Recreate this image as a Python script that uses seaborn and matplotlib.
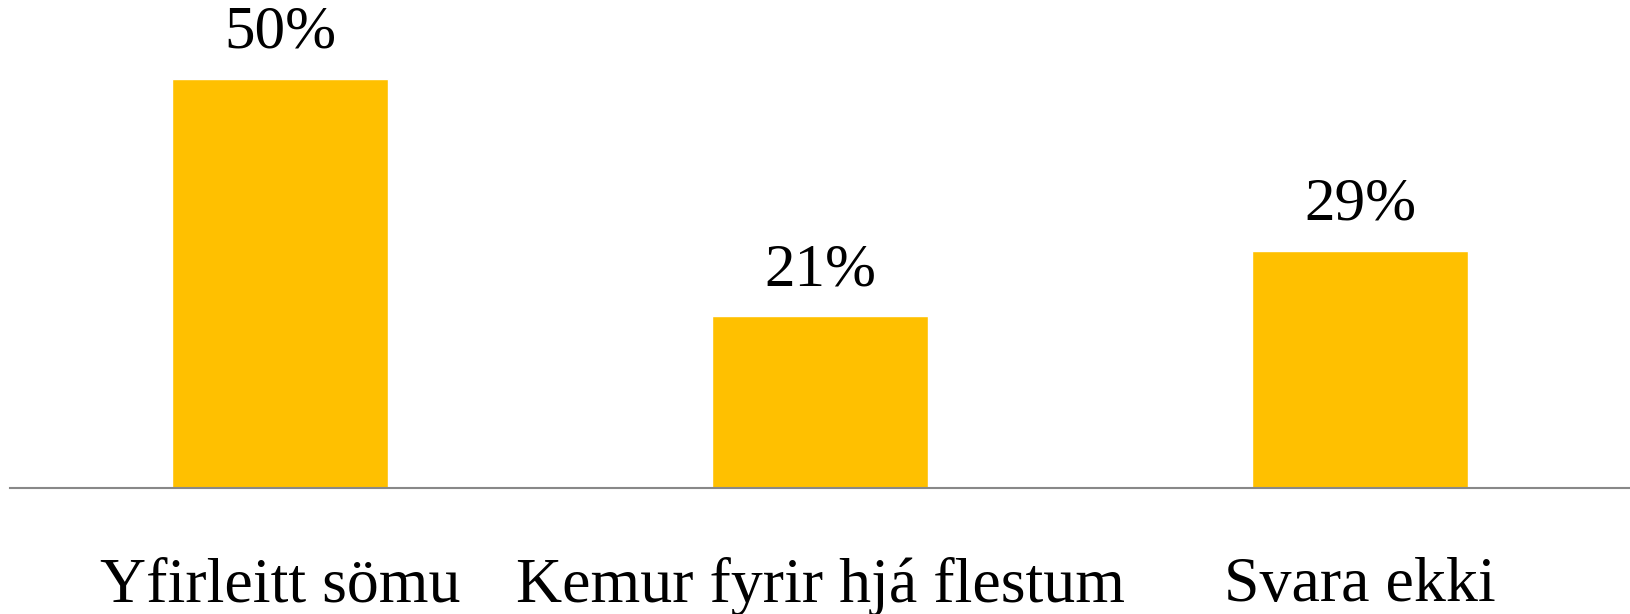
import matplotlib
matplotlib.use("Agg")
import matplotlib.pyplot as plt
import seaborn as sns
import pandas as pd

categories = ["Yfirleitt sömu", "Kemur fyrir hjá flestum", "Svara ekki"]
values = [50, 21, 29]
labels = ["50%", "21%", "29%"]

sns.set_style("white")
plt.rcParams["font.family"] = ["Liberation Serif", "DejaVu Serif"]

df = pd.DataFrame({"cat": categories, "val": values})

fig = plt.figure(figsize=(16.3, 6.14), dpi=100)
ax = fig.add_axes([10 / 1630, 126 / 614, 1620 / 1630, 488 / 614])
sns.barplot(data=df, x="cat", y="val", color="#FFC000", saturation=1, width=0.4, ax=ax)

ax.set_ylim(0, 50 * 488 / 409)
ax.set_xlim(-0.5, 2.5)
for i, (v, lab) in enumerate(zip(values, labels)):
    ax.annotate(lab, (i, v), xytext=(0, 13), textcoords="offset points",
                ha="center", va="bottom", fontsize=44, color="black")

for s in ["top", "right", "left"]:
    ax.spines[s].set_visible(False)
ax.spines["bottom"].set_color("#888888")
ax.spines["bottom"].set_linewidth(1.5)
ax.set_yticks([])
ax.tick_params(axis="x", length=0, pad=50, labelsize=46, labelcolor="black")
ax.set_xlabel("")
ax.set_ylabel("")

fig.savefig("out.png", dpi=100)
